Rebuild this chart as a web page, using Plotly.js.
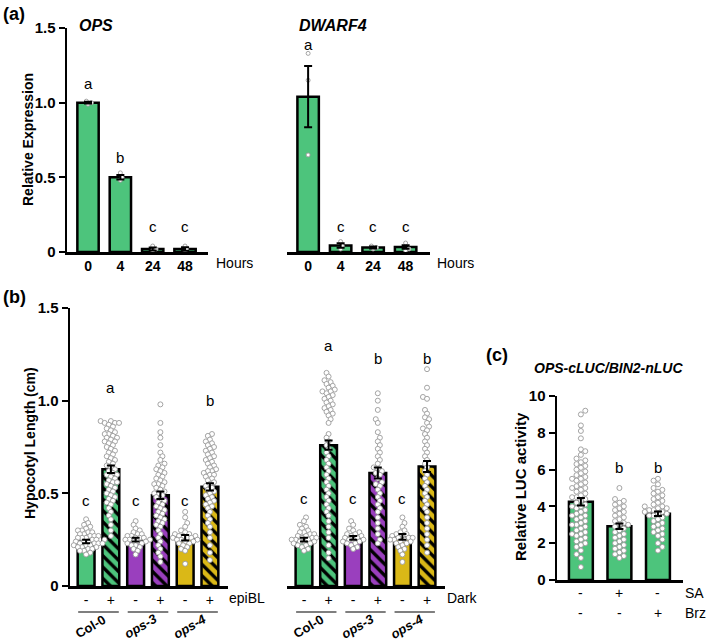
<!DOCTYPE html>
<html><head><meta charset="utf-8">
<script src="https://cdn.plot.ly/plotly-3.0.1.min.js"></script>
<style>html,body{margin:0;padding:0;background:#fff}#chart{width:709px;height:644px}</style>
</head><body><div id="chart"></div>
<script>
// ================= DATA =================
// Panel (a)
const hourLabels = ['0','4','24','48'];
const opsMean = [1.00, 0.50, 0.02, 0.02];
const opsSem  = [0.006, 0.015, 0.010, 0.012];
const opsReps = [[0.99,1.00,1.01],[0.48,0.50,0.53],[0.01,0.02,0.04],[0.00,0.02,0.04]];
const opsLetters = ['a','b','c','c'];
const opsLetterY = [1.13, 0.63, 0.17, 0.17];
const dwf4Mean = [1.04, 0.043, 0.030, 0.033];
const dwf4Sem  = [0.205, 0.015, 0.006, 0.012];
const dwf4Reps = [[0.65,1.15,1.33],[0.02,0.04,0.07],[0.02,0.03,0.04],[0.01,0.02,0.06]];
const dwf4Letters = ['a','c','c','c'];
const dwf4LetterY = [1.39, 0.17, 0.17, 0.17];
const aTicks = ['0','0.5','1.0','1.5'];

// Panel (b)
const genotypes = ['Col-0','ops-3','ops-4'];
const treatSigns = ['-','+','-','+','-','+'];
const bTicks = ['0','0.5','1.0','1.5'];
const epiMean = [0.24,0.63,0.25,0.49,0.26,0.535];
const epiSem  = [0.010,0.020,0.010,0.020,0.015,0.020];
const epiLetters = ['c','a','c','','c','b'];
const epiLetterY = [0.46,1.07,0.46,null,0.46,1.00];
const darkMean = [0.25,0.76,0.26,0.61,0.265,0.645];
const darkSem  = [0.010,0.025,0.010,0.030,0.015,0.030];
const darkLetters = ['c','a','c','b','c','b'];
const darkLetterY = [0.47,1.30,0.47,1.23,0.47,1.23];
const epiPts = [
 [0.36,0.34,0.33,0.32,0.31,0.30,0.30,0.29,0.29,0.28,0.28,0.27,0.27,0.27,0.26,0.26,0.26,0.25,0.25,0.25,0.25,0.24,0.24,0.24,0.24,0.23,0.23,0.23,0.23,0.22,0.22,0.22,0.21,0.21,0.21,0.20,0.20,0.19,0.19,0.18,0.17],
 [0.89,0.89,0.88,0.88,0.88,0.87,0.86,0.85,0.84,0.83,0.82,0.82,0.81,0.80,0.80,0.79,0.78,0.78,0.77,0.76,0.75,0.74,0.73,0.72,0.71,0.70,0.69,0.68,0.67,0.66,0.65,0.64,0.63,0.62,0.61,0.60,0.60,0.59,0.58,0.57,0.56,0.56,0.55,0.54,0.53,0.52,0.51,0.50,0.49,0.48,0.47,0.46,0.45,0.44,0.42,0.40,0.38,0.36,0.33,0.30,0.27],
 [0.35,0.33,0.31,0.30,0.29,0.28,0.28,0.27,0.27,0.26,0.26,0.26,0.25,0.25,0.25,0.24,0.24,0.24,0.23,0.23,0.22,0.22,0.21,0.20,0.19,0.17],
 [0.98,0.88,0.83,0.80,0.76,0.72,0.70,0.68,0.66,0.65,0.64,0.63,0.62,0.61,0.60,0.59,0.58,0.57,0.56,0.55,0.55,0.54,0.53,0.52,0.51,0.50,0.50,0.49,0.48,0.47,0.46,0.45,0.44,0.43,0.42,0.41,0.40,0.39,0.38,0.37,0.36,0.35,0.34,0.33,0.32,0.30,0.28,0.26,0.24,0.22,0.20,0.18,0.16,0.13],
 [0.40,0.37,0.34,0.32,0.30,0.29,0.28,0.28,0.27,0.27,0.27,0.26,0.26,0.26,0.25,0.25,0.25,0.24,0.24,0.23,0.23,0.22,0.21,0.20,0.19,0.12],
 [0.82,0.81,0.79,0.78,0.77,0.76,0.75,0.74,0.73,0.72,0.71,0.70,0.69,0.68,0.67,0.66,0.65,0.64,0.63,0.62,0.62,0.61,0.60,0.60,0.59,0.58,0.57,0.56,0.55,0.54,0.53,0.52,0.51,0.50,0.49,0.48,0.47,0.46,0.45,0.44,0.43,0.42,0.40,0.38,0.36,0.34,0.32,0.29,0.26,0.22,0.18,0.14]
];
const darkPts = [
 [0.37,0.35,0.33,0.32,0.31,0.30,0.29,0.29,0.28,0.28,0.27,0.27,0.26,0.26,0.26,0.25,0.25,0.25,0.24,0.24,0.24,0.23,0.23,0.22,0.22,0.21,0.20,0.19],
 [1.15,1.13,1.11,1.10,1.09,1.08,1.07,1.06,1.05,1.05,1.04,1.03,1.02,1.01,1.00,0.99,0.98,0.97,0.96,0.95,0.94,0.93,0.92,0.90,0.88,0.82,0.80,0.78,0.76,0.74,0.72,0.70,0.68,0.66,0.64,0.62,0.60,0.58,0.56,0.54,0.52,0.50,0.48,0.46,0.44,0.42,0.40,0.38,0.35,0.32,0.29,0.26,0.22,0.18,0.15],
 [0.35,0.33,0.31,0.30,0.29,0.28,0.28,0.27,0.27,0.26,0.26,0.25,0.25,0.25,0.24,0.24,0.23,0.23,0.22,0.21,0.20],
 [1.04,1.00,0.95,0.90,0.88,0.83,0.80,0.78,0.76,0.74,0.72,0.70,0.68,0.66,0.64,0.63,0.62,0.61,0.60,0.58,0.56,0.55,0.54,0.52,0.50,0.48,0.46,0.44,0.42,0.40,0.37,0.34,0.31,0.28,0.25,0.23],
 [0.37,0.34,0.32,0.30,0.29,0.28,0.28,0.27,0.27,0.26,0.26,0.26,0.25,0.25,0.25,0.24,0.24,0.23,0.23,0.22,0.21,0.20,0.19,0.17,0.13],
 [1.17,1.07,1.02,1.01,0.95,0.93,0.91,0.90,0.88,0.86,0.85,0.84,0.82,0.80,0.78,0.76,0.74,0.72,0.70,0.68,0.66,0.64,0.62,0.60,0.58,0.56,0.54,0.52,0.50,0.48,0.46,0.44,0.42,0.40,0.37,0.34,0.31,0.28,0.25,0.22,0.18]
];

// Panel (c)
const saSigns  = ['-','+','-'];
const brzSigns = ['-','-','+'];
const cTicks = ['0','2','4','6','8','10'];
const lucMean = [4.25, 2.92, 3.60];
const lucSem  = [0.20, 0.15, 0.12];
const lucLetters = ['a','b','b'];
const lucLetterY = [10.2, 6.1, 6.1];
const lucPts = [
 [9.2,9.0,8.4,8.1,7.7,7.1,7.0,6.8,6.6,6.5,6.4,6.3,6.2,6.1,6.0,5.9,5.8,5.7,5.6,5.5,5.5,5.4,5.3,5.2,5.1,5.0,5.0,4.9,4.8,4.7,4.6,4.5,4.5,4.4,4.3,4.2,4.1,4.0,4.0,3.9,3.8,3.7,3.6,3.5,3.5,3.4,3.3,3.2,3.1,3.0,3.0,2.9,2.8,2.7,2.6,2.5,2.5,2.4,2.3,2.2,2.1,2.0,1.9,1.8,1.6,1.4,1.2,0.7],
 [5.0,4.4,4.3,4.2,4.1,4.0,3.9,3.8,3.7,3.6,3.5,3.4,3.3,3.2,3.1,3.0,3.0,2.9,2.8,2.7,2.6,2.5,2.4,2.3,2.2,2.1,2.0,1.9,1.8,1.7,1.6,1.5,1.4,1.3,1.2],
 [5.5,5.4,5.2,5.0,4.9,4.8,4.7,4.6,4.5,4.4,4.3,4.2,4.1,4.0,4.0,3.9,3.9,3.8,3.8,3.7,3.7,3.6,3.6,3.5,3.5,3.4,3.3,3.2,3.1,3.0,2.9,2.8,2.7,2.6,2.5,2.4,2.2,2.0,1.8,1.6]
];

// ================= LAYOUT / STYLE =================
const W = 709, H = 644;
const FONT = 'Liberation Sans, Arial, Helvetica, sans-serif';
const GREEN = '#4dc47c', PURPLE = '#9a3fbe', YELLOW = '#dab817';
const bColors = [GREEN, GREEN, PURPLE, PURPLE, YELLOW, YELLOW];

const SP = {
  a1: {x0:67,  x1:208, xr:[-0.65,3.71], yTop:28,  yBot:252, yr:[0,1.5]},
  a2: {x0:287, x1:430, xr:[-0.65,3.75], yTop:28,  yBot:252, yr:[0,1.5]},
  b1: {x0:70,  x1:228, xr:[-0.65,5.73], yTop:308, yBot:586, yr:[0,1.5]},
  b2: {x0:287, x1:445, xr:[-0.69,5.73], yTop:308, yBot:586, yr:[0,1.5]},
  c:  {x0:557, x1:683, xr:[-0.62,2.65], yTop:396, yBot:580, yr:[0,10]}
};
for (const k in SP) {
  const s = SP[k];
  s.pxX = (s.x1 - s.x0) / (s.xr[1] - s.xr[0]);
  s.pxY = (s.yBot - s.yTop) / (s.yr[1] - s.yr[0]);
}
const px = x => x / W, py = y => 1 - y / H;

// deterministic beeswarm offsets (pixel-space collision avoidance)
function swarmX(vals, center, s, diam) {
  const order = vals.map((v,i)=>i).sort((a,b)=>vals[a]-vals[b]);
  const placed = [], out = new Array(vals.length);
  order.forEach((i, n) => {
    const y = vals[i] * s.pxY;
    let chosen = 0;
    for (let k = 0; k < 80; k++) {
      const mag = Math.ceil(k/2) * diam * 0.5;
      const sign = ((k + n) % 2 === 0) ? 1 : -1;
      const cand = k === 0 ? 0 : sign * mag;
      let ok = true;
      for (const p of placed) {
        const dy = p.y - y;
        if (Math.abs(dy) >= diam) continue;
        const dx = p.x - cand;
        if (dx*dx + dy*dy < diam*diam) { ok = false; break; }
      }
      if (ok) { chosen = cand; break; }
    }
    placed.push({x: chosen, y});
    out[i] = center + chosen / s.pxX;
  });
  return out;
}

const traces = [];
function addPanel(xa, ya, s, means, sems, reps, colors, hatched, width, ptSize, diam) {
  const xs = means.map((_, i) => i);
  const col = i => Array.isArray(colors) ? colors[i] : colors;
  const plainIdx = xs.filter(i => !(hatched && hatched[i]));
  traces.push({
    type: 'bar', x: plainIdx, y: plainIdx.map(i => means[i]), xaxis: xa, yaxis: ya, width: width,
    marker: {color: plainIdx.map(col), line: {color: '#000', width: 2.5}}, hoverinfo: 'skip'
  });
  if (hatched) xs.filter(i => hatched[i]).forEach(i => {
    traces.push({
      type: 'bar', x: [i], y: [means[i]], xaxis: xa, yaxis: ya, width: width,
      marker: {color: col(i), line: {color: '#000', width: 2.5},
        pattern: {shape: '\\', fgcolor: '#000', bgcolor: col(i), fillmode: 'overlay',
                  size: 8, solidity: 0.42, fgopacity: 1}},
      hoverinfo: 'skip'
    });
  });
  let px_ = [], py_ = [];
  reps.forEach((r, i) => { px_ = px_.concat(swarmX(r, i, s, diam)); py_ = py_.concat(r); });
  traces.push({
    type: 'scatter', mode: 'markers', x: px_, y: py_, xaxis: xa, yaxis: ya,
    marker: {size: ptSize, color: '#fff', line: {color: '#9a9a9a', width: 0.9}},
    hoverinfo: 'skip', cliponaxis: false
  });
  traces.push({
    type: 'scatter', mode: 'markers', x: xs, y: means, xaxis: xa, yaxis: ya,
    marker: {size: 1, color: 'rgba(0,0,0,0)'},
    error_y: {type: 'data', array: sems, visible: true, color: '#000', thickness: 2, width: 4},
    hoverinfo: 'skip', cliponaxis: false
  });
}

addPanel('x',  'y',  SP.a1, opsMean,  opsSem,  opsReps,  GREEN, null, 0.66, 4, 3.4);
addPanel('x2', 'y2', SP.a2, dwf4Mean, dwf4Sem, dwf4Reps, GREEN, null, 0.66, 4, 3.4);
const hatch = treatSigns.map(s => s === '+');
addPanel('x3', 'y3', SP.b1, epiMean,  epiSem,  epiPts,  bColors, hatch, 0.68, 5, 4.1);
addPanel('x4', 'y4', SP.b2, darkMean, darkSem, darkPts, bColors, hatch, 0.68, 5, 4.1);
addPanel('x5', 'y5', SP.c,  lucMean,  lucSem,  lucPts,  GREEN, null, 0.62, 5, 4.4);

const yTickFont = {family: FONT, size: 15, color: '#000', weight: 'bold'};
const xTickFont = {family: FONT, size: 14, color: '#000', weight: 'bold'};
function xAxis(s, yname, tickvals, ticktext, font, showLabels) {
  return {
    domain: [px(s.x0), px(s.x1)], range: s.xr, anchor: yname,
    showline: true, linecolor: '#000', linewidth: 2.5,
    showgrid: false, zeroline: false, ticks: '',
    tickvals: tickvals, ticktext: ticktext, tickfont: font,
    showticklabels: showLabels, fixedrange: true
  };
}
function yAxis(s, xname, tickvals, ticktext, visible) {
  return {
    domain: [py(s.yBot), py(s.yTop)], range: s.yr, anchor: xname,
    visible: visible, showline: true, linecolor: '#000', linewidth: 2.5,
    showgrid: false, zeroline: false, ticks: 'outside', ticklen: 6, tickwidth: 2,
    tickcolor: '#000', tickvals: tickvals, ticktext: ticktext, tickfont: yTickFont,
    ticklabelstandoff: 0, fixedrange: true
  };
}
const signFont = {family: FONT, size: 14, color: '#000'};

const layout = {
  width: W, height: H, margin: {l:0, r:0, t:0, b:0},
  paper_bgcolor: '#fff', plot_bgcolor: 'rgba(0,0,0,0)',
  showlegend: false, bargap: 0, barmode: 'overlay',
  font: {family: FONT, color: '#000'},
  xaxis:  xAxis(SP.a1, 'y',  [0,1,2,3], hourLabels, xTickFont, true),
  yaxis:  yAxis(SP.a1, 'x',  [0,0.5,1,1.5], aTicks, true),
  xaxis2: xAxis(SP.a2, 'y2', [0,1,2,3], hourLabels, xTickFont, true),
  yaxis2: yAxis(SP.a2, 'x2', [0,0.5,1,1.5], aTicks, false),
  xaxis3: xAxis(SP.b1, 'y3', [0,1,2,3,4,5], treatSigns, signFont, true),
  yaxis3: yAxis(SP.b1, 'x3', [0,0.5,1,1.5], bTicks, true),
  xaxis4: xAxis(SP.b2, 'y4', [0,1,2,3,4,5], treatSigns, signFont, true),
  yaxis4: yAxis(SP.b2, 'x4', [0,0.5,1,1.5], bTicks, false),
  xaxis5: xAxis(SP.c,  'y5', [0,1,2], saSigns, signFont, false),
  yaxis5: yAxis(SP.c,  'x5', [0,2,4,6,8,10], cTicks, true),
  annotations: [], shapes: []
};

const ann = layout.annotations;
function txt(text, x, y, opts) {
  ann.push(Object.assign({text: text, x: px(x), y: py(y), xref: 'paper', yref: 'paper',
    showarrow: false, xanchor: 'left', yanchor: 'middle',
    font: {family: FONT, size: 14, color: '#000'}}, opts || {}));
}
txt('<b>(a)</b>', 1, 14, {font: {family: FONT, size: 18}});
txt('<b>(b)</b>', 1, 297, {font: {family: FONT, size: 18}});
txt('<b>(c)</b>', 484, 355, {font: {family: FONT, size: 18}});
txt('<b><i>OPS</i></b>', 77, 25, {font: {family: FONT, size: 16}});
txt('<b><i>DWARF4</i></b>', 297, 25, {font: {family: FONT, size: 16}});
txt('<b><i>OPS-cLUC/BIN2-nLUC</i></b>', 608, 368, {xanchor: 'center', font: {family: FONT, size: 14}});
txt('<b>Relative Expression</b>', 28, 140, {xanchor: 'center', textangle: -90});
txt('<b>Hypocotyl Length (cm)</b>', 30, 443, {xanchor: 'center', textangle: -90});
txt('<b>Relative LUC activity</b>', 520, 487, {xanchor: 'center', textangle: -90, font: {family: FONT, size: 15}});
txt('Hours', 214, 263);
txt('Hours', 435, 263);
txt('epiBL', 227, 598);
txt('Dark', 445, 598);
txt('SA', 683, 593);
txt('Brz', 683, 613);

function letters(xa, ya, arr, ys) {
  arr.forEach((l, i) => {
    if (!l) return;
    ann.push({text: l, x: i, y: ys[i], xref: xa, yref: ya, showarrow: false,
      xanchor: 'center', yanchor: 'middle', font: {family: FONT, size: 15, color: '#000'}});
  });
}
letters('x', 'y', opsLetters, opsLetterY);
letters('x2', 'y2', dwf4Letters, dwf4LetterY);
letters('x3', 'y3', epiLetters, epiLetterY);
letters('x4', 'y4', darkLetters, darkLetterY);
letters('x5', 'y5', lucLetters, lucLetterY);

saSigns.forEach((s, i) => ann.push({text: s, x: i, y: py(593), xref: 'x5', yref: 'paper', showarrow: false,
  xanchor: 'center', yanchor: 'middle', font: signFont}));
brzSigns.forEach((s, i) => ann.push({text: s, x: i, y: py(613), xref: 'x5', yref: 'paper', showarrow: false,
  xanchor: 'center', yanchor: 'middle', font: signFont}));

function groups(xa, s) {
  genotypes.forEach((g, i) => {
    const c = 2*i + 0.5;
    layout.shapes.push({type: 'line', xref: xa, yref: 'paper', x0: c - 0.82, x1: c + 0.82,
      y0: py(612), y1: py(612), line: {color: '#000', width: 1.2}});
    const label = g.startsWith('ops') ? '<b><i>' + g + '</i></b>' : '<b>' + g + '</b>';
    const cx = s.x0 + (c - s.xr[0]) * s.pxX - 8;
    ann.push({text: label, x: px(cx), y: py(626), xref: 'paper', yref: 'paper', showarrow: false,
      xanchor: 'center', yanchor: 'middle', textangle: -30, font: {family: FONT, size: 13, color: '#000'}});
  });
}
groups('x3', SP.b1);
groups('x4', SP.b2);

Plotly.newPlot('chart', traces, layout, {displayModeBar: false, staticPlot: true});
</script>
</body></html>
